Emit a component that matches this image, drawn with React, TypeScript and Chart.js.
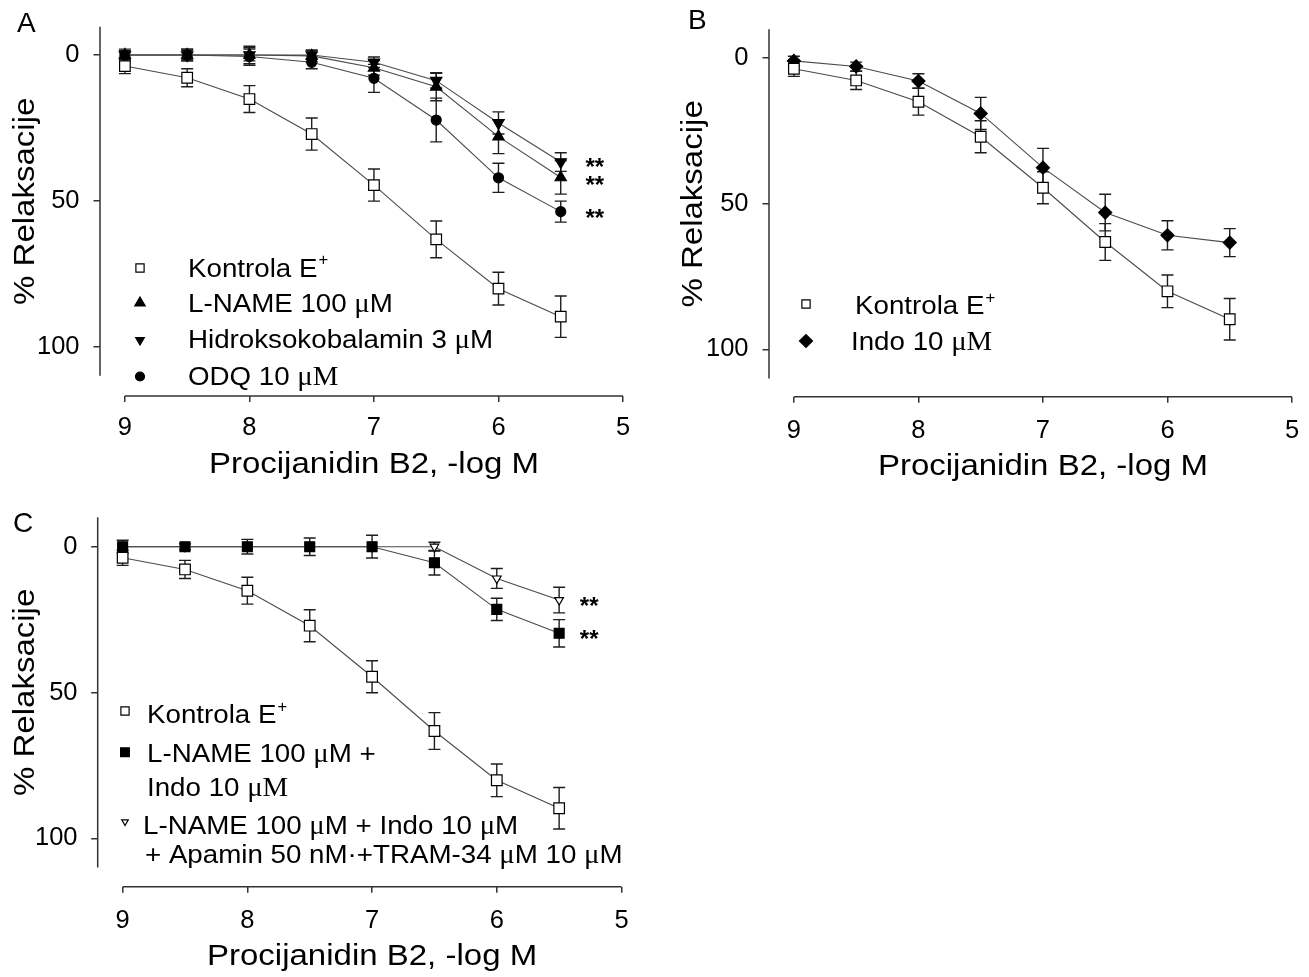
import React, { useEffect, useRef } from 'react';
import { Chart, registerables } from 'chart.js';
import { drawPoint } from 'chart.js/helpers';

Chart.register(...registerables);

// ---------------- data ----------------
const doses = [9, 8.5, 8, 7.5, 7, 6.5, 6, 5.5];
const xTickValues = [9, 8, 7, 6, 5];
const yTickValues = [0, 50, 100];
const yAxisEnd = 110;

const kontrolaMean = [3.8, 7.8, 15.1, 27.1, 44.6, 63.2, 80.1, 89.7];
const kontrolaSem = [2.6, 3.1, 4.6, 5.5, 5.5, 6.3, 5.6, 7.1];

const lnameMean = [0, 0, 0, 0.3, 4.4, 10.9, 28.0, 42.0];
const lnameSem = [2.0, 2.0, 3.0, 2.0, 2.5, 4.8, 5.8, 5.7];

const hidroMean = [0, 0, 0, 0, 2.5, 8.8, 23.3, 36.7];
const hidroSem = [1.5, 1.5, 2.0, 1.5, 1.8, 2.5, 3.8, 3.2];

const odqMean = [0, 0, 0.5, 2.5, 8.0, 22.3, 42.1, 53.7];
const odqSem = [1.5, 2.0, 3.0, 2.2, 4.8, 7.5, 5.0, 3.6];

const indoMean = [1.1, 3.0, 8.0, 19.1, 37.7, 53.1, 60.9, 63.4];
const indoSem = [1.6, 1.5, 2.5, 5.5, 6.6, 6.3, 5.0, 4.8];

const lnameIndoMean = [0, 0, 0, 0, 0, 5.5, 21.5, 29.7];
const lnameIndoSem = [2.2, 1.0, 2.5, 3.0, 3.9, 4.2, 3.8, 4.7];

const kcaMean = [0, 0, 0, 0, 0, 0, 10.9, 18.3];
const kcaSem = [0, 0, 0, 0, 0, 1.5, 3.4, 4.4];

const xTitle = 'Procijanidin B2, -log M';
const yTitle = '% Relaksacije';
const sigMark = '**';

// ~...~ = serif run, ^{...} = superscript
const legendA = ['Kontrola E^{+}', 'L-NAME 100 ~μ~M', 'Hidroksokobalamin 3 ~μ~M', 'ODQ 10 ~μM~'];
const legendB = ['Kontrola E^{+}', 'Indo 10 ~μM~'];
const legendC1 = ['Kontrola E^{+}'];
const legendC2 = ['L-NAME 100 ~μ~M +', 'Indo 10 ~μM~'];
const legendC3 = ['L-NAME 100 ~μ~M + Indo 10 ~μ~M', '+ Apamin 50 nM·+TRAM-34 ~μ~M 10 ~μ~M'];

// ---------------- styles ----------------
const SANS = "'Liberation Sans', Arial, Helvetica, sans-serif";
const SERIF = "'Liberation Serif', 'Times New Roman', serif";
const LINE_COLOR = '#4a4a4a';
const AXIS_COLOR = '#333333';
const ERR_COLOR = '#1e1e1e';
const TICK_FONT = 25.5;
const TITLE_FONT = 30;
const TITLE_STRETCH = 1.1;
const LEGEND_FONT = 26;
const LEGEND_STRETCH = 1.066;
const LETTER_FONT = 28;

const sOpenSquare = { pointStyle: 'rect', rotation: 0, radius: 7.5, fill: '#ffffff', legendRadius: 5.8 };
const sTriUp = { pointStyle: 'triangle', rotation: 0, radius: 6.5, fill: '#000000', legendRadius: 6 };
const sTriDown = { pointStyle: 'triangle', rotation: 180, radius: 6.5, fill: '#000000', legendRadius: 5 };
const sCircle = { pointStyle: 'circle', rotation: 0, radius: 5, fill: '#000000', legendRadius: 4.5 };
const sDiamond = { pointStyle: 'rectRot', rotation: 0, radius: 6.5, fill: '#000000', legendRadius: 6.5 };
const sFillSquare = { pointStyle: 'rect', rotation: 0, radius: 7, fill: '#000000', legendRadius: 6.2 };
const sOpenTriDown = { pointStyle: 'triangle', rotation: 180, radius: 5, fill: '#ffffff', legendRadius: 3.8 };

const panels: any[] = [
  {
    id: 'A', letter: 'A', letterPos: [17, 24],
    box: { left: 0, top: 0, w: 655, h: 490 },
    pad: { left: 0, top: 26.7, right: 32, bottom: 0 },
    yWidth: 100, xHeight: 94, xMax: 9.2, yMin: -9.7, yMax: 116.9,
    xTickPad: 11, yTickPad: 14, xTitleY: 465, yTitleX: 25.5,
    series: [
      { name: 'Kontrola E+', mean: kontrolaMean, sem: kontrolaSem, style: sOpenSquare },
      { name: 'L-NAME 100 μM', mean: lnameMean, sem: lnameSem, style: sTriUp },
      { name: 'Hidroksokobalamin 3 μM', mean: hidroMean, sem: hidroSem, style: sTriDown },
      { name: 'ODQ 10 μM', mean: odqMean, sem: odqSem, style: sCircle },
    ],
    legend: [
      { series: 0, marker: [140, 268], text: [legendA[0]], pos: [[188, 267.5]] },
      { series: 1, marker: [140, 303], text: [legendA[1]], pos: [[188, 302.5]] },
      { series: 2, marker: [140, 340], text: [legendA[2]], pos: [[188, 339]] },
      { series: 3, marker: [140, 376.5], text: [legendA[3]], pos: [[188, 376]] },
    ],
    stars: [{ series: 2, dx: 34, dy: -1 }, { series: 1, dx: 34, dy: 1.5 }, { series: 3, dx: 34, dy: 0 }],
  },
  {
    id: 'B', letter: 'B', letterPos: [33, 19],
    box: { left: 655, top: 2, w: 654, h: 490 },
    pad: { left: 0, top: 27.3, right: 17, bottom: 0 },
    yWidth: 114, xHeight: 95.3, xMax: 9.2, yMin: -9.74, yMax: 116.25,
    xTickPad: 12.5, yTickPad: 14, xTitleY: 465, yTitleX: 38.5,
    series: [
      { name: 'Kontrola E+', mean: kontrolaMean, sem: kontrolaSem, style: sOpenSquare },
      { name: 'Indo 10 μM', mean: indoMean, sem: indoSem, style: sDiamond },
    ],
    legend: [
      { series: 0, marker: [151, 302], text: [legendB[0]], pos: [[200, 303]] },
      { series: 1, marker: [151, 339], text: [legendB[1]], pos: [[196, 339]] },
    ],
    stars: [],
  },
  {
    id: 'C', letter: 'C', letterPos: [13, 34],
    box: { left: 0, top: 490, w: 655, h: 487 },
    pad: { left: 0, top: 27.3, right: 33.5, bottom: 0 },
    yWidth: 97.7, xHeight: 90.3, xMax: 9.2, yMin: -10.08, yMax: 116.6,
    xTickPad: 12.5, yTickPad: 13.7, xTitleY: 467, yTitleX: 26,
    series: [
      { name: 'Kontrola E+', mean: kontrolaMean, sem: kontrolaSem, style: sOpenSquare },
      { name: 'L-NAME 100 μM + Indo 10 μM', mean: lnameIndoMean, sem: lnameIndoSem, style: sFillSquare },
      { name: 'L-NAME + Indo + Apamin + TRAM-34', mean: kcaMean, sem: kcaSem, style: sOpenTriDown },
    ],
    legend: [
      { series: 0, marker: [125, 221], text: legendC1, pos: [[147, 224]] },
      { series: 1, marker: [125, 262.3], text: legendC2, pos: [[147, 262.5], [147, 296.7]] },
      { series: 2, marker: [125, 331.7], text: legendC3, pos: [[143, 335], [145, 363.3]] },
    ],
    stars: [{ series: 2, dx: 30, dy: 0 }, { series: 1, dx: 30, dy: 0 }],
  },
];

// ---------------- helpers ----------------
function parseRich(s: string) {
  return s
    .split(/(\^\{[^}]*\}|~[^~]*~)/)
    .filter((p) => p.length > 0)
    .map((p) => {
      if (p.startsWith('^{')) return { t: p.slice(2, -1), kind: 'sup' };
      if (p.startsWith('~')) return { t: p.slice(1, -1), kind: 'serif' };
      return { t: p, kind: 'sans' };
    });
}

function drawRich(ctx: CanvasRenderingContext2D, s: string, x: number, capCenterY: number, size: number, sx: number) {
  ctx.save();
  ctx.translate(x, capCenterY + 0.358 * size);
  ctx.scale(sx, 1);
  ctx.textAlign = 'left';
  ctx.textBaseline = 'alphabetic';
  let cx = 0;
  for (const seg of parseRich(s)) {
    if (seg.kind === 'sup') {
      ctx.font = `${size * 0.6}px ${SANS}`;
      ctx.fillText(seg.t, cx + 1, -size * 0.45);
      cx += ctx.measureText(seg.t).width + 1;
    } else if (seg.kind === 'serif') {
      ctx.font = `${size * 1.04}px ${SERIF}`;
      ctx.fillText(seg.t, cx, 0);
      cx += ctx.measureText(seg.t).width;
    } else {
      ctx.font = `${size}px ${SANS}`;
      ctx.fillText(seg.t, cx, 0);
      cx += ctx.measureText(seg.t).width;
    }
  }
  ctx.restore();
}

function makeDecor(panel: any) {
  return {
    id: 'decor',
    beforeDatasetsDraw(chart: any) {
      const { ctx } = chart;
      const xs = chart.scales.x;
      const ys = chart.scales.y;
      ctx.save();
      ctx.strokeStyle = ERR_COLOR;
      ctx.lineWidth = 1.4;
      chart.data.datasets.forEach((ds: any) => {
        const errs = ds.errors as number[];
        if (!errs) return;
        ds.data.forEach((p: any, i: number) => {
          const e = errs[i];
          if (!e) return;
          const px = xs.getPixelForValue(p.x);
          const y1 = ys.getPixelForValue(p.y - e);
          const y2 = ys.getPixelForValue(p.y + e);
          ctx.beginPath();
          ctx.moveTo(px, y1);
          ctx.lineTo(px, y2);
          ctx.moveTo(px - 6, y1);
          ctx.lineTo(px + 6, y1);
          ctx.moveTo(px - 6, y2);
          ctx.lineTo(px + 6, y2);
          ctx.stroke();
        });
      });
      ctx.restore();
    },
    afterDraw(chart: any) {
      const { ctx, chartArea: ca } = chart;
      const xs = chart.scales.x;
      const ys = chart.scales.y;
      ctx.save();
      // detached axis lines
      ctx.strokeStyle = AXIS_COLOR;
      ctx.lineWidth = 1.5;
      ctx.beginPath();
      ctx.moveTo(ca.left, ca.top);
      ctx.lineTo(ca.left, ys.getPixelForValue(yAxisEnd));
      ctx.moveTo(xs.getPixelForValue(xTickValues[0]), ca.bottom);
      ctx.lineTo(xs.getPixelForValue(xTickValues[xTickValues.length - 1]), ca.bottom);
      ctx.stroke();

      // axis titles
      ctx.fillStyle = '#000';
      ctx.font = `${TITLE_FONT}px ${SANS}`;
      ctx.textAlign = 'center';
      ctx.textBaseline = 'middle';
      const xc = (xs.getPixelForValue(xTickValues[0]) + xs.getPixelForValue(xTickValues[xTickValues.length - 1])) / 2;
      ctx.save();
      ctx.translate(xc, panel.xTitleY);
      ctx.scale(TITLE_STRETCH, 1);
      ctx.fillText(xTitle, 0, 0);
      ctx.restore();
      ctx.save();
      ctx.translate(panel.yTitleX, (ca.top + ys.getPixelForValue(yAxisEnd)) / 2);
      ctx.rotate(-Math.PI / 2);
      ctx.scale(TITLE_STRETCH, 1);
      ctx.fillText(yTitle, 0, 0);
      ctx.restore();

      // panel letter
      ctx.font = `${LETTER_FONT}px ${SANS}`;
      ctx.textAlign = 'left';
      ctx.textBaseline = 'middle';
      ctx.fillText(panel.letter, panel.letterPos[0], panel.letterPos[1]);

      // legend
      panel.legend.forEach((item: any) => {
        const st = panel.series[item.series].style;
        ctx.fillStyle = st.fill;
        ctx.strokeStyle = '#000';
        ctx.lineWidth = 1.2;
        drawPoint(ctx, { pointStyle: st.pointStyle, rotation: st.rotation, radius: st.legendRadius, borderWidth: 1.2 } as any, item.marker[0], item.marker[1]);
        ctx.fillStyle = '#000';
        item.text.forEach((t: string, k: number) => drawRich(ctx, t, item.pos[k][0], item.pos[k][1], LEGEND_FONT, LEGEND_STRETCH));
      });

      // significance marks
      ctx.font = `bold 24px ${SANS}`;
      ctx.textAlign = 'center';
      ctx.textBaseline = 'alphabetic';
      ctx.fillStyle = '#000';
      panel.stars.forEach((s: any) => {
        const ser = panel.series[s.series];
        const last = ser.mean.length - 1;
        const px = xs.getPixelForValue(doses[last]) + s.dx;
        const py = ys.getPixelForValue(ser.mean[last]) + s.dy;
        ctx.fillText(sigMark, px, py + 0.585 * 24);
      });
      ctx.restore();
    },
  };
}

function makeConfig(panel: any): any {
  const tickFont = { family: SANS, size: TICK_FONT };
  return {
    type: 'scatter',
    data: {
      datasets: panel.series.map((s: any) => ({
        label: s.name,
        data: doses.map((d, i) => ({ x: d, y: s.mean[i] })),
        errors: s.sem,
        showLine: true,
        tension: 0,
        borderColor: LINE_COLOR,
        borderWidth: 1.1,
        pointStyle: s.style.pointStyle,
        pointRotation: s.style.rotation,
        pointRadius: s.style.radius,
        pointHoverRadius: s.style.radius,
        pointBackgroundColor: s.style.fill,
        pointBorderColor: '#000',
        pointBorderWidth: 1.2,
        clip: false,
      })),
    },
    options: {
      animation: false,
      responsive: true,
      maintainAspectRatio: false,
      devicePixelRatio: 1,
      events: [],
      layout: { padding: panel.pad },
      plugins: { legend: { display: false }, tooltip: { enabled: false }, title: { display: false } },
      scales: {
        x: {
          type: 'linear',
          position: 'bottom',
          min: 5,
          max: panel.xMax,
          reverse: true,
          afterBuildTicks: (s: any) => {
            s.ticks = xTickValues.map((v) => ({ value: v }));
          },
          afterFit: (s: any) => {
            s.height = panel.xHeight;
            s.paddingLeft = 0;
            s.paddingRight = 0;
            s.paddingTop = 0;
            s.paddingBottom = 0;
          },
          ticks: {
            autoSkip: false,
            maxRotation: 0,
            minRotation: 0,
            padding: panel.xTickPad,
            color: '#000',
            font: tickFont,
            callback: (v: any) => String(v),
          },
          grid: { display: true, drawOnChartArea: false, drawTicks: true, tickLength: 6, color: AXIS_COLOR, lineWidth: 1.5 },
          border: { display: false },
          title: { display: false },
        },
        y: {
          type: 'linear',
          position: 'left',
          min: panel.yMin,
          max: panel.yMax,
          reverse: true,
          afterBuildTicks: (s: any) => {
            s.ticks = yTickValues.map((v) => ({ value: v }));
          },
          afterFit: (s: any) => {
            s.width = panel.yWidth;
            s.paddingLeft = 0;
            s.paddingRight = 0;
            s.paddingTop = 0;
            s.paddingBottom = 0;
          },
          ticks: {
            autoSkip: false,
            padding: panel.yTickPad,
            color: '#000',
            font: tickFont,
            callback: (v: any) => String(v),
          },
          grid: { display: true, drawOnChartArea: false, drawTicks: true, tickLength: 6.5, color: AXIS_COLOR, lineWidth: 1.5 },
          border: { display: false },
          title: { display: false },
        },
      },
    },
    plugins: [makeDecor(panel)],
  };
}

function Panel({ panel }: { panel: any }) {
  const ref = useRef<HTMLCanvasElement | null>(null);
  useEffect(() => {
    if (!ref.current) return;
    const chart = new Chart(ref.current, makeConfig(panel));
    return () => chart.destroy();
  }, [panel]);
  return (
    <div
      style={{
        position: 'absolute',
        left: panel.box.left,
        top: panel.box.top,
        width: panel.box.w,
        height: panel.box.h,
      }}
    >
      <canvas ref={ref} />
    </div>
  );
}

export default function App() {
  return (
    <div style={{ position: 'absolute', left: 0, top: 0, width: 1309, height: 977, background: '#ffffff', overflow: 'hidden' }}>
      {panels.map((p) => (
        <Panel key={p.id} panel={p} />
      ))}
    </div>
  );
}
